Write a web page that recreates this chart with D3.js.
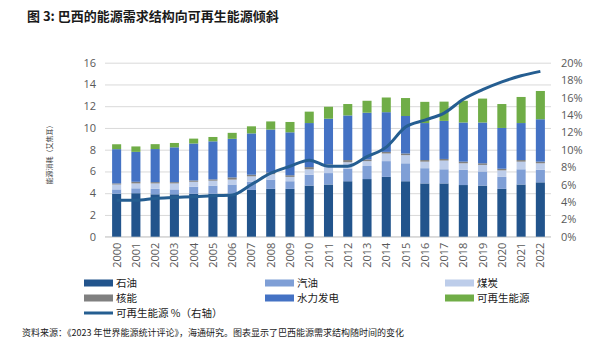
<!DOCTYPE html>
<html lang="zh">
<head>
<meta charset="UTF-8">
<title>巴西的能源需求结构</title>
<script src="https://d3js.org/d3.v7.min.js"></script>
<style>
    body { margin: 0; background: #fff; font-family: "Noto Sans CJK SC", "Noto Sans", sans-serif; }
    .axis path { display: none; }
    .axis text { font-family: "Open Sans", "Noto Sans", sans-serif; font-size: 11px; fill: #595959; }
    .xlab { font-family: "Open Sans", "Noto Sans", sans-serif; font-size: 11px; fill: #595959; }
    .grid line { stroke: #d9d9d9; }
</style>
</head>
<body>
<svg id="chart" width="604" height="354"></svg>
<script>
// data
const years = d3.range(2000, 2023).map(String);
const oil     = [3.95, 4.0, 3.9, 3.9, 3.95, 3.95, 3.95, 4.3, 4.4, 4.4, 4.7, 4.8, 5.1, 5.3, 5.5, 5.1, 4.9, 4.9, 4.75, 4.7, 4.4, 4.8, 5.0];
const gas     = [0.4, 0.45, 0.5, 0.45, 0.65, 0.75, 0.85, 0.75, 0.85, 0.7, 1.0, 1.05, 1.15, 1.2, 1.45, 1.65, 1.4, 1.3, 1.4, 1.3, 1.1, 1.4, 1.15];
const coal    = [0.45, 0.45, 0.5, 0.55, 0.45, 0.45, 0.45, 0.5, 0.5, 0.4, 0.5, 0.65, 0.6, 0.45, 0.7, 0.75, 0.6, 0.8, 0.6, 0.6, 0.6, 0.7, 0.6];
const nuclear = [0.1, 0.15, 0.12, 0.12, 0.12, 0.12, 0.2, 0.15, 0.15, 0.15, 0.2, 0.15, 0.2, 0.15, 0.15, 0.15, 0.15, 0.15, 0.15, 0.15, 0.15, 0.15, 0.15];
const hydro   = [3.15, 2.75, 3.04, 3.2, 3.4, 3.5, 3.55, 3.8, 3.95, 3.95, 4.05, 4.2, 4.1, 4.3, 3.65, 3.45, 3.4, 3.5, 3.6, 3.75, 3.75, 3.4, 3.9];
const renew   = [0.45, 0.5, 0.45, 0.4, 0.45, 0.4, 0.55, 0.65, 0.75, 0.95, 1.05, 1.1, 1.05, 1.1, 1.35, 1.65, 1.95, 1.77, 2.0, 2.2, 2.2, 2.4, 2.6];
const renewPct = [4.2, 4.2, 4.4, 4.5, 4.6, 4.7, 4.8, 6.0, 7.3, 8.1, 8.8, 8.1, 8.1, 9.2, 10.3, 12.6, 13.4, 14.2, 15.8, 16.9, 17.8, 18.5, 19.0];

const seriesNames = ["石油", "汽油", "煤炭", "核能", "水力发电", "可再生能源"];
const seriesColors = ["#22548c", "#7f9fd6", "#bdcdea", "#808080", "#4472c4", "#70ad47"];
const leftTicks = [0, 2, 4, 6, 8, 10, 12, 14, 16];
const rightTicks = [0, 2, 4, 6, 8, 10, 12, 14, 16, 18, 20];

const svg = d3.select("#chart");

// build rows for the stack
const rows = years.map((yr, i) => ({
    year: yr,
    "石油": oil[i], "汽油": gas[i], "煤炭": coal[i],
    "核能": nuclear[i], "水力发电": hydro[i], "可再生能源": renew[i]
}));
const stacked = d3.stack().keys(seriesNames)(rows);

const x = d3.scaleBand().domain(years).range([107, 550]).paddingInner(0.53).paddingOuter(0.265);
const y = d3.scaleLinear().domain([0, 16]).range([236.7, 62.7]);
const yR = d3.scaleLinear().domain([0, 20]).range([236.7, 62.7]);
const color = d3.scaleOrdinal().domain(seriesNames).range(seriesColors);

// title
svg.append("text")
    .attr("x", 27).attr("y", 21)
    .attr("font-size", 13).attr("font-weight", "bold").attr("fill", "#1a1a1a")
    .text("图 3:  巴西的能源需求结构向可再生能源倾斜");

// gridlines + left axis
svg.append("g")
    .attr("class", "axis grid")
    .attr("transform", "translate(105,0)")
    .call(d3.axisLeft(y).tickValues(leftTicks).tickSize(-446).tickPadding(9));

// baseline
svg.append("line")
    .attr("x1", 105).attr("x2", 551)
    .attr("y1", y(0)).attr("y2", y(0))
    .attr("stroke", "#d9d9d9").attr("stroke-width", 1.5);

// right axis
svg.append("g")
    .attr("class", "axis")
    .attr("transform", "translate(551,0)")
    .call(d3.axisRight(yR).tickValues(rightTicks).tickSize(0).tickPadding(10).tickFormat(d => d + "%"));

// left axis title
svg.append("text")
    .attr("transform", `translate(52,${153}) rotate(-90)`)
    .attr("text-anchor", "middle")
    .attr("font-size", 7).attr("fill", "#404040")
    .text("能源消耗（艾焦耳）");

// bars
svg.append("g").selectAll("g")
    .data(stacked)
    .join("g")
    .attr("fill", d => color(d.key))
    .selectAll("rect")
    .data(d => d)
    .join("rect")
    .attr("x", d => x(d.data.year))
    .attr("width", x.bandwidth())
    .attr("y", d => y(d[1]))
    .attr("height", d => y(d[0]) - y(d[1]));

// x labels, rotated to read bottom-up
svg.append("g").selectAll("text")
    .data(years)
    .join("text")
    .attr("class", "xlab")
    .attr("transform", d => `translate(${x(d) + x.bandwidth() / 2 + 4},${y(0) + 6}) rotate(-90)`)
    .attr("text-anchor", "end")
    .text(d => d);

// renewable share line
const line = d3.line()
    .x((d, i) => x(years[i]) + x.bandwidth() / 2)
    .y(d => yR(d))
    .curve(d3.curveMonotoneX);

svg.append("path")
    .datum(renewPct)
    .attr("d", line)
    .attr("fill", "none")
    .attr("stroke", "#255e91")
    .attr("stroke-width", 3);

// legend
const legendItems = [
    { name: "石油", col: 0, row: 0 }, { name: "汽油", col: 1, row: 0 }, { name: "煤炭", col: 2, row: 0 },
    { name: "核能", col: 0, row: 1 }, { name: "水力发电", col: 1, row: 1 }, { name: "可再生能源", col: 2, row: 1 }
];
const colX = [84, 265, 445];
const rowY = [283, 298, 313];

const legend = svg.append("g");
legendItems.forEach(it => {
    legend.append("rect")
        .attr("x", colX[it.col]).attr("y", rowY[it.row] - 3.5)
        .attr("width", 29).attr("height", 7)
        .attr("fill", color(it.name));
    legend.append("text")
        .attr("x", colX[it.col] + 32).attr("y", rowY[it.row] + 4)
        .attr("font-size", 10.5).attr("fill", "#1a1a1a")
        .text(it.name);
});
legend.append("line")
    .attr("x1", colX[0]).attr("x2", colX[0] + 29)
    .attr("y1", rowY[2]).attr("y2", rowY[2])
    .attr("stroke", "#255e91").attr("stroke-width", 3);
legend.append("text")
    .attr("x", colX[0] + 32).attr("y", rowY[2] + 4)
    .attr("font-size", 10.5).attr("fill", "#1a1a1a")
    .text("可再生能源 %（右轴）");

// source note
svg.append("text")
    .attr("x", 22).attr("y", 336)
    .attr("font-size", 9).attr("fill", "#1a1a1a")
    .text("资料来源：《2023 年世界能源统计评论》，海通研究。图表显示了巴西能源需求结构随时间的变化");
</script>
</body>
</html>
